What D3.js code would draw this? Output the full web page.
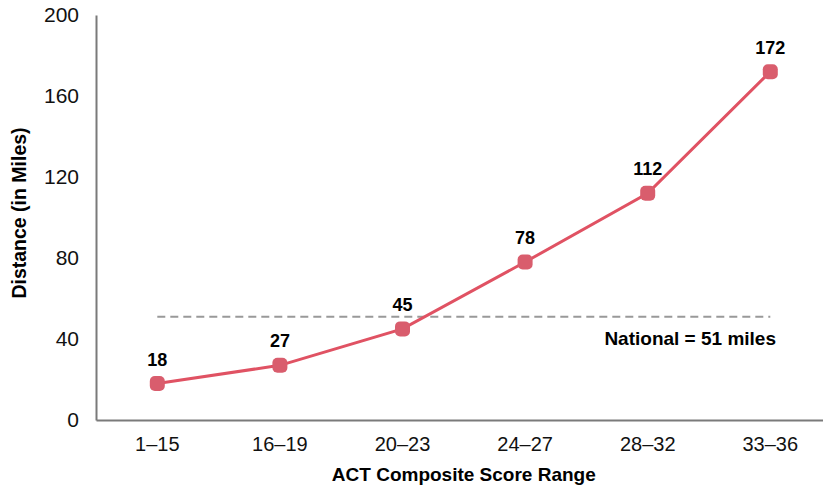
<!DOCTYPE html>
<html>
<head>
<meta charset="utf-8">
<script src="https://cdn.jsdelivr.net/npm/d3@7"></script>
<style>
  body { margin: 0; background: #fff; }
  svg text { font-family: "Liberation Sans", Arial, sans-serif; }
</style>
</head>
<body>
<div id="chart"></div>
<script>
// chart data
var categories = ["1\u201315", "16\u201319", "20\u201323", "24\u201327", "28\u201332", "33\u201336"];
var distances = [18, 27, 45, 78, 112, 172];
var yTicks = [0, 40, 80, 120, 160, 200];
var nationalValue = 51;
var nationalLabel = "National = 51 miles";

var width = 823, height = 486;
var margin = {top: 15, left: 96, bottom: 66};

var svg = d3.select("#chart").append("svg")
  .attr("width", width)
  .attr("height", height);

var x = d3.scaleBand()
  .domain(categories)
  .range([margin.left, margin.left + 122.6 * categories.length]);

var y = d3.scaleLinear()
  .domain([0, 200])
  .range([height - margin.bottom, margin.top]);

// y axis
var yAxis = svg.append("g")
  .attr("transform", "translate(" + margin.left + ",0)")
  .call(d3.axisLeft(y).tickValues(yTicks).tickSize(0).tickPadding(17));
yAxis.select(".domain").attr("stroke", "#7a7a7a").attr("stroke-width", 2);
yAxis.selectAll("text").attr("font-size", 21).attr("fill", "#111")
  .attr("font-family", "Liberation Sans, Arial, sans-serif");

// x axis
var xAxis = svg.append("g")
  .attr("transform", "translate(0," + y(0) + ")")
  .call(d3.axisBottom(x).tickSize(0).tickPadding(17));
xAxis.select(".domain").attr("stroke", "#7a7a7a").attr("stroke-width", 2);
xAxis.selectAll("text").attr("font-size", 20).attr("fill", "#111")
  .attr("font-family", "Liberation Sans, Arial, sans-serif");

// titles
svg.append("text")
  .attr("x", margin.left + 122.6 * 3)
  .attr("y", 481)
  .attr("text-anchor", "middle")
  .attr("font-size", 19)
  .attr("font-weight", "bold")
  .text("ACT Composite Score Range");

svg.append("text")
  .attr("transform", "translate(26,213) rotate(-90)")
  .attr("text-anchor", "middle")
  .attr("font-size", 19.5)
  .attr("font-weight", "bold")
  .text("Distance (in Miles)");

// national reference line
var cx = function(d){ return x(d) + x.bandwidth() / 2; };
svg.append("line")
  .attr("x1", cx(categories[0]))
  .attr("x2", cx(categories[categories.length - 1]))
  .attr("y1", y(nationalValue))
  .attr("y2", y(nationalValue))
  .attr("stroke", "#999")
  .attr("stroke-width", 2)
  .attr("stroke-dasharray", "8,5");

svg.append("text")
  .attr("x", 776)
  .attr("y", y(nationalValue) + 28)
  .attr("text-anchor", "end")
  .attr("font-size", 19)
  .attr("font-weight", "bold")
  .text(nationalLabel);

// series
var points = categories.map(function(c, i){ return {cat: c, v: distances[i]}; });

svg.append("path")
  .datum(points)
  .attr("fill", "none")
  .attr("stroke", "#e05263")
  .attr("stroke-width", 3)
  .attr("d", d3.line().x(function(d){ return cx(d.cat); }).y(function(d){ return y(d.v); }));

svg.selectAll("rect.pt")
  .data(points)
  .enter().append("rect")
  .attr("class", "pt")
  .attr("x", function(d){ return cx(d.cat) - 7.5; })
  .attr("y", function(d){ return y(d.v) - 7.5; })
  .attr("width", 15)
  .attr("height", 15)
  .attr("rx", 5)
  .attr("fill", "#d95d6d");

svg.selectAll("text.val")
  .data(points)
  .enter().append("text")
  .attr("class", "val")
  .attr("x", function(d){ return cx(d.cat); })
  .attr("y", function(d){ return y(d.v) - 18; })
  .attr("text-anchor", "middle")
  .attr("font-size", 18)
  .attr("font-weight", "bold")
  .text(function(d){ return d.v; });
</script>
</body>
</html>
